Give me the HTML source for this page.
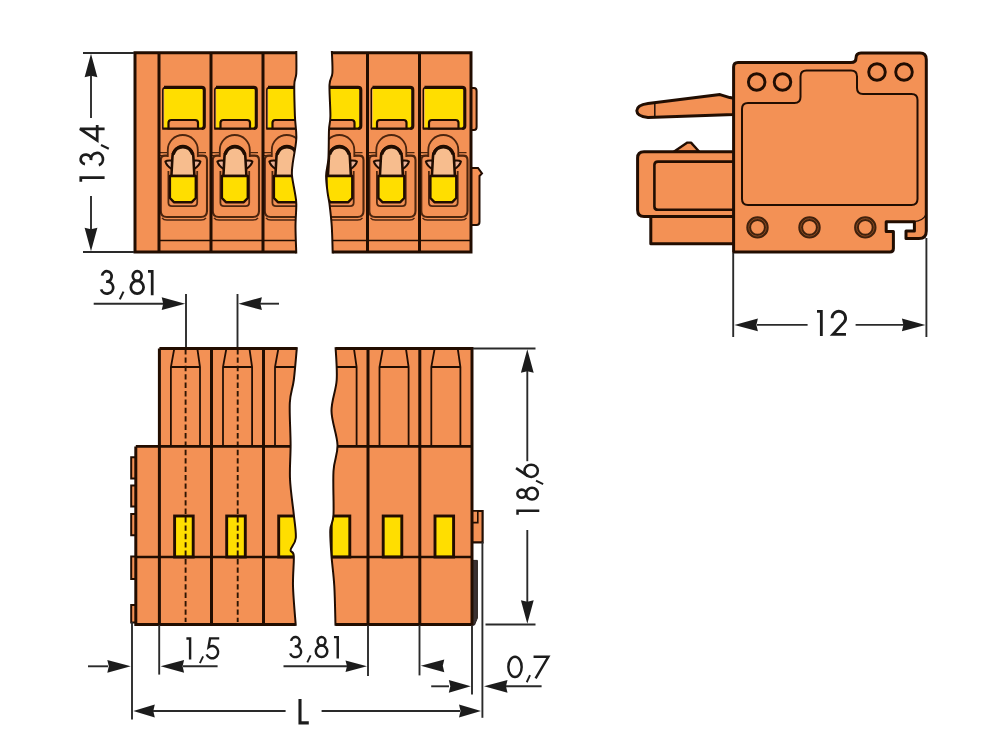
<!DOCTYPE html>
<html><head><meta charset="utf-8"><title>Dimensions</title>
<style>
html,body{margin:0;padding:0;background:#fff;}
body{width:1000px;height:756px;overflow:hidden;font-family:"Liberation Sans",sans-serif;}
svg{display:block;}
</style></head><body>
<svg width="1000" height="756" viewBox="0 0 1000 756">
<rect width="1000" height="756" fill="#ffffff"/>
<defs>
<filter id="soft" x="0" y="0" width="1000" height="756" filterUnits="userSpaceOnUse"><feGaussianBlur stdDeviation="0.55"/></filter>

<g id="mod">
  <!-- yellow window -->
  <rect x="3.6" y="87" width="42" height="41.6" rx="2.5" fill="#f4a878"/>
  <rect x="5.2" y="88.6" width="38.6" height="40" rx="1" fill="#ffde02"/>
  <path d="M3.8,128.6 V90 Q3.8,87.6 6.2,87.4" fill="none" stroke="#200e06" stroke-width="1.5"/>
  <path d="M5,87.4 H42.6 Q45.3,87.4 45.3,90 V126 Q45.3,128.5 42.8,128.5" fill="none" stroke="#200e06" stroke-width="3.1"/>
  <path d="M3.2,128.6 H44" fill="none" stroke="#200e06" stroke-width="2.2"/>
  <path d="M9.5,128.5 V122.8 Q9.5,120 12.3,120 H36.2 Q39,120 39,122.8 V128.5 Z" fill="#f39155" stroke="#200e06" stroke-width="2.2"/>
  <!-- ledge lines -->
  <path d="M1,152.6 H9 M1,155.6 H9 M39,152.6 H47 M39,155.6 H47" stroke="#4d2510" stroke-width="1.4" fill="none"/>
  <!-- outer pocket -->
  <path d="M8.5,155.6 H6 Q1.8,155.6 1.8,160 V211 Q1.8,217 7.8,217 H42 Q48,217 48,211 V160 Q48,155.6 43.6,155.6 H39" fill="none" stroke="#4d2510" stroke-width="2.1"/>
  <path d="M3,217.8 Q4.5,220 8,220 H42 Q45.5,220 47,217.8" fill="none" stroke="#4d2510" stroke-width="1.5"/>
  <!-- outer arch -->
  <path d="M8.8,157 V150 A15,15 0 0 1 38.8,150 V157" fill="none" stroke="#4d2510" stroke-width="1.8"/>
  <!-- ears -->
  <path d="M13.2,160.6 Q8,160 6.4,161.6 Q7.6,166.4 13,169" fill="#eab095" stroke="#200e06" stroke-width="2.1" stroke-linejoin="round"/>
  <path d="M34.6,160.6 Q39.8,160 41.4,161.6 Q40.2,166.4 34.8,169" fill="#eab095" stroke="#200e06" stroke-width="2.1" stroke-linejoin="round"/>
  <!-- inner pocket outline -->
  <path d="M9.4,171 V202.6 Q9.4,206.2 13,206.2 H34.6 Q38.2,206.2 38.2,202.6 V171" fill="none" stroke="#4d2510" stroke-width="1.8"/>
  <!-- inner arch with peach -->
  <path d="M12.4,176 L13.4,157.5 A10.5,11.5 0 0 1 34.4,157.5 L35.4,176 Z" fill="#f7bd8e" stroke="#200e06" stroke-width="2.6"/>
  <path d="M14,154.5 A10.5,11.5 0 0 1 33.8,154.5" fill="none" stroke="#200e06" stroke-width="3.4"/>
  <!-- lower yellow -->
  <path d="M10.9,176 H36.8 V198 L32.8,202.2 H14.9 L10.9,198 Z" fill="#ffde02" stroke="#200e06" stroke-width="2.4" stroke-linejoin="round"/>
</g>
<clipPath id="clipL"><path d="M120,40 H296 L296.3,50.0 C296.3,53.9 296.6,67.6 296.3,73.4 C296.0,79.2 294.5,77.7 294.3,84.8 C294.1,91.9 294.6,107.0 294.9,116.0 C295.2,125.0 296.7,130.8 296.3,138.8 C295.9,146.9 293.3,158.2 292.6,164.3 C291.9,170.5 291.6,171.0 292.0,175.7 C292.4,180.4 294.2,188.0 294.9,192.7 C295.6,197.4 296.2,198.3 296.3,204.0 C296.4,209.7 295.5,218.5 295.5,226.8 C295.5,235.1 296.2,249.5 296.3,254.0 V270 H120 Z"/></clipPath>
<clipPath id="clipR"><path d="M500,40 H331 L331.8,50.0 C331.9,53.8 332.8,67.2 332.4,73.0 C332.0,78.8 329.8,77.6 329.5,84.8 C329.2,92.0 330.5,108.5 330.4,116.0 C330.3,123.5 329.3,122.9 329.0,130.0 C328.7,137.1 328.9,151.0 328.4,158.6 C327.9,166.2 326.2,170.0 326.1,175.7 C326.0,181.4 327.0,188.0 327.6,192.7 C328.2,197.4 328.8,198.3 329.5,204.0 C330.2,209.7 331.3,218.5 331.8,226.8 C332.3,235.1 332.6,249.5 332.7,254.0 V270 H500 Z"/></clipPath>
<clipPath id="clipBL"><path d="M120,340 H296 L297.0,346.0 C296.5,351.7 295.0,370.5 293.8,380.0 C292.6,389.5 290.3,392.2 289.8,403.0 C289.3,413.8 290.6,432.3 290.6,445.0 C290.6,457.7 289.5,467.4 290.0,479.0 C290.5,490.6 292.8,504.8 293.8,514.6 C294.8,524.4 296.3,532.1 295.8,538.0 C295.3,543.9 290.9,547.0 290.6,550.0 C290.3,553.0 293.4,550.0 293.8,556.0 C294.2,562.0 292.7,574.3 293.0,586.0 C293.3,597.7 295.3,619.3 295.8,626.0 V640 H120 Z"/></clipPath>
<clipPath id="cyT"><rect x="280" y="51" width="70" height="202.5"/></clipPath>
<clipPath id="cyB"><rect x="280" y="347.2" width="70" height="278.6"/></clipPath>
<clipPath id="clipBR"><path d="M500,340 H335 L335.5,346.0 C335.7,351.7 337.4,369.2 336.7,380.0 C336.0,390.8 331.4,400.2 331.5,411.0 C331.6,421.8 337.2,435.0 337.5,445.0 C337.8,455.0 334.2,459.4 333.5,471.0 C332.8,482.6 334.0,504.8 333.5,514.6 C333.0,524.4 330.6,523.1 330.3,530.0 C330.0,536.9 330.8,546.7 331.5,556.0 C332.2,565.3 333.6,574.3 334.3,586.0 C335.0,597.7 335.3,619.3 335.5,626.0 V640 H500 Z"/></clipPath>
</defs>
<g filter="url(#soft)">
<rect width="1000" height="756" fill="#ffffff"/>

<g clip-path="url(#clipL)">
<rect x="135" y="52.8" width="200" height="199.2" fill="#f39155"/>
<use href="#mod" x="159" y="0"/>
<use href="#mod" x="211" y="0"/>
<use href="#mod" x="263" y="0"/>
<line x1="159" y1="240.5" x2="300" y2="240.5" stroke="#200e06" stroke-width="1.6"/>
<line x1="159" y1="52.5" x2="159" y2="252" stroke="#200e06" stroke-width="3"/>
<line x1="211" y1="52.5" x2="211" y2="252" stroke="#200e06" stroke-width="3"/>
<line x1="263" y1="52.5" x2="263" y2="252" stroke="#200e06" stroke-width="3"/>
<path d="M300,52.8 H135 V252 H300" fill="none" stroke="#200e06" stroke-width="3"/>
</g>
<path d="M296.3,50.0 C296.3,53.9 296.6,67.6 296.3,73.4 C296.0,79.2 294.5,77.7 294.3,84.8 C294.1,91.9 294.6,107.0 294.9,116.0 C295.2,125.0 296.7,130.8 296.3,138.8 C295.9,146.9 293.3,158.2 292.6,164.3 C291.9,170.5 291.6,171.0 292.0,175.7 C292.4,180.4 294.2,188.0 294.9,192.7 C295.6,197.4 296.2,198.3 296.3,204.0 C296.4,209.7 295.5,218.5 295.5,226.8 C295.5,235.1 296.2,249.5 296.3,254.0" fill="none" stroke="#200e06" stroke-width="2" clip-path="url(#cyT)"/>
<path d="M471,88 H474 Q476.6,88 476.6,91 V127 Q476.6,130 474,130 H471 Z" fill="#f39155" stroke="#200e06" stroke-width="2"/>
<path d="M471,168 H478 L482,173.5 L479.5,176 V222 Q479.5,225 476.5,225 H471 Z" fill="#f39155" stroke="#200e06" stroke-width="2"/>
<g clip-path="url(#clipR)">
<rect x="300" y="52.5" width="171" height="199.5" fill="#f39155"/>
<use href="#mod" x="315.5" y="0"/>
<use href="#mod" x="367.5" y="0"/>
<use href="#mod" x="419.5" y="0"/>
<line x1="300" y1="240.5" x2="471" y2="240.5" stroke="#200e06" stroke-width="1.6"/>
<line x1="367.5" y1="52.5" x2="367.5" y2="252" stroke="#200e06" stroke-width="3"/>
<line x1="419.5" y1="52.5" x2="419.5" y2="252" stroke="#200e06" stroke-width="3"/>
<path d="M300,52.8 H471 V252 H300" fill="none" stroke="#200e06" stroke-width="3"/>
</g>
<path d="M331.8,50.0 C331.9,53.8 332.8,67.2 332.4,73.0 C332.0,78.8 329.8,77.6 329.5,84.8 C329.2,92.0 330.5,108.5 330.4,116.0 C330.3,123.5 329.3,122.9 329.0,130.0 C328.7,137.1 328.9,151.0 328.4,158.6 C327.9,166.2 326.2,170.0 326.1,175.7 C326.0,181.4 327.0,188.0 327.6,192.7 C328.2,197.4 328.8,198.3 329.5,204.0 C330.2,209.7 331.3,218.5 331.8,226.8 C332.3,235.1 332.6,249.5 332.7,254.0" fill="none" stroke="#200e06" stroke-width="2" clip-path="url(#cyT)"/>
<line x1="83" y1="53" x2="134" y2="53" stroke="#2b2b2b" stroke-width="1.9"/>
<line x1="83" y1="252" x2="134" y2="252" stroke="#2b2b2b" stroke-width="1.9"/>
<line x1="91" y1="75" x2="91" y2="118" stroke="#2b2b2b" stroke-width="1.9"/>
<line x1="91" y1="196" x2="91" y2="230" stroke="#2b2b2b" stroke-width="1.9"/>
<polygon points="91.0,53.8 97.4,77.3 91.0,75.8 84.6,77.3" fill="#1e1e1e"/>
<polygon points="91.0,251.2 84.6,227.7 91.0,229.2 97.4,227.7" fill="#1e1e1e"/>
<g transform="translate(80.6,182.3) rotate(-90)" fill="none" stroke="#1e1e1e" stroke-width="2.75" stroke-miterlimit="3"><g transform="translate(0.6,0)"><path d="M0,0.2 H4.2 V24"/></g><g transform="translate(16.9,0)"><path d="M1.3,4.4 A4.8,5.2 0 1 1 5.4,10.4 H6 A6.2,6 0 1 1 0.3,18.2"/></g><g transform="translate(33.6,0)"><path d="M3.7,20.4 L0,28.2" stroke-width="2.1"/></g><g transform="translate(41.9,0)"><path d="M11.6,24 V-0.6 L0,16.6 H15.4"/></g></g>
<line x1="93.7" y1="303.7" x2="164" y2="303.7" stroke="#2b2b2b" stroke-width="1.9"/>
<polygon points="185.2,303.7 161.7,310.1 163.2,303.7 161.7,297.3" fill="#1e1e1e"/>
<line x1="186" y1="294" x2="186" y2="349" stroke="#2b2b2b" stroke-width="1.9"/>
<line x1="237.5" y1="294" x2="237.5" y2="349" stroke="#2b2b2b" stroke-width="1.9"/>
<polygon points="238.4,303.7 261.9,297.3 260.4,303.7 261.9,310.1" fill="#1e1e1e"/>
<line x1="260" y1="303.7" x2="279" y2="303.7" stroke="#2b2b2b" stroke-width="1.9"/>
<g transform="translate(100.8,271.2)" fill="none" stroke="#1e1e1e" stroke-width="2.75" stroke-miterlimit="3"><g transform="translate(0,0)"><path d="M1.3,4.4 A4.8,5.2 0 1 1 5.4,10.4 H6 A6.2,6 0 1 1 0.3,18.2"/></g><g transform="translate(19,0)"><path d="M3.7,20.4 L0,28.2" stroke-width="2.1"/></g><g transform="translate(30,0)"><ellipse cx="6.4" cy="4.8" rx="4.4" ry="4.8"/><ellipse cx="6.4" cy="16" rx="6.4" ry="6.4"/></g><g transform="translate(47.2,0)"><path d="M0,0.2 H4.2 V24"/></g></g>
<path d="M734,98.2 L729.8,97.6 L720,94.6 L648,103.6 Q637,105 636.8,110.8 Q637,116.6 648,117.4 L734,114.4 Z" fill="#f39155" stroke="#200e06" stroke-width="3" stroke-linejoin="round"/>
<line x1="654.8" y1="103" x2="654.8" y2="117.5" stroke="#200e06" stroke-width="1.5"/>
<path d="M734,216 H650.8 V243.8 H734 Z" fill="#f39155" stroke="#200e06" stroke-width="3" stroke-linejoin="round"/>
<path d="M673.8,151.8 L687.4,142.6 H691 L699.3,151.8 Z" fill="#f39155" stroke="#200e06" stroke-width="2.4" stroke-linejoin="round"/>
<path d="M734,151.8 H644 Q637.6,151.8 637.6,158 V210 Q637.6,216.6 644,216.6 H734 Z" fill="#f39155" stroke="#200e06" stroke-width="3"/>
<path d="M734,161.6 H658 Q654.4,161.6 654.4,165 V206.4 Q654.4,209.8 658,209.8 H734" fill="none" stroke="#200e06" stroke-width="2.6"/>
<path d="M733.6,67 Q733.6,62.5 738,62.5 H851 Q856,62.5 856,58 Q856,53 861,53 H920 Q926.3,53 926.3,59.5 V231 Q926.3,238.6 919,238.6 H906 V231 H914.4 V221.8 H886.2 V231.4 H893.4 V248.5 Q893.4,252 890,252 H733.6 Z" fill="#f39155" stroke="#200e06" stroke-width="3" stroke-linejoin="round"/>
<path d="M742,109 Q742,103 748,103 H794.5 Q800.5,103 800.5,97 V76.5 Q800.5,70.5 806.5,70.5 H851 Q857,70.5 857,76.5 V88 Q857,94 863,94 H911.5 Q917.5,94 917.5,100 V199 Q917.5,205 911.5,205 H748 Q742,205 742,199 Z" fill="none" stroke="#200e06" stroke-width="2"/>
<path d="M914,221.6 Q923,221 926,214.5" fill="none" stroke="#200e06" stroke-width="1.2"/>
<circle cx="756.7" cy="82" r="8.3" fill="none" stroke="#200e06" stroke-width="2.9"/>
<circle cx="782.5" cy="82" r="8.3" fill="none" stroke="#200e06" stroke-width="2.9"/>
<circle cx="877" cy="72" r="8.3" fill="none" stroke="#200e06" stroke-width="2.9"/>
<circle cx="904" cy="72" r="8.3" fill="none" stroke="#200e06" stroke-width="2.9"/>
<circle cx="757.5" cy="227.4" r="8.8" fill="none" stroke="#40200e" stroke-width="4.8"/>
<circle cx="757.5" cy="227.4" r="8.8" fill="none" stroke="#8a4a20" stroke-width="1"/>
<circle cx="809.5" cy="227.4" r="8.8" fill="none" stroke="#40200e" stroke-width="4.8"/>
<circle cx="809.5" cy="227.4" r="8.8" fill="none" stroke="#8a4a20" stroke-width="1"/>
<circle cx="865.3" cy="227.4" r="8.8" fill="none" stroke="#40200e" stroke-width="4.8"/>
<circle cx="865.3" cy="227.4" r="8.8" fill="none" stroke="#8a4a20" stroke-width="1"/>
<line x1="733.2" y1="253" x2="733.2" y2="337" stroke="#2b2b2b" stroke-width="1.9"/>
<line x1="926.4" y1="238" x2="926.4" y2="337" stroke="#2b2b2b" stroke-width="1.9"/>
<polygon points="734.4,324.9 757.9,318.5 756.4,324.9 757.9,331.3" fill="#1e1e1e"/>
<line x1="757" y1="324.9" x2="807.6" y2="324.9" stroke="#2b2b2b" stroke-width="1.9"/>
<line x1="855.6" y1="324.9" x2="904" y2="324.9" stroke="#2b2b2b" stroke-width="1.9"/>
<polygon points="925.4,324.9 901.9,331.3 903.4,324.9 901.9,318.5" fill="#1e1e1e"/>
<g transform="translate(817,311.2) scale(1.035)" fill="none" stroke="#1e1e1e" stroke-width="2.75" stroke-miterlimit="3"><g transform="translate(0,0)"><path d="M0,0.2 H4.2 V24"/></g><g transform="translate(14.6,0)"><path d="M0,6.8 A6.5,6.5 0 1 1 11.6,10.6 L0.8,22.4 H13.4"/></g></g>
<path d="M136,457.2 H131.2 V478.4 H136" fill="#f39155" stroke="#200e06" stroke-width="2"/>
<path d="M136,485.5 H131.2 V506.5 H136" fill="#f39155" stroke="#200e06" stroke-width="2"/>
<path d="M136,514 H131.2 V535.2 H136" fill="#f39155" stroke="#200e06" stroke-width="2"/>
<path d="M136,556.4 H131.2 V579 H136" fill="#f39155" stroke="#200e06" stroke-width="2"/>
<path d="M136,605 H131.2 V622.5 H136" fill="#f39155" stroke="#200e06" stroke-width="2"/>
<g clip-path="url(#clipBL)">
<path d="M159.4,348.5 H300 V624.4 H135.8 V446.4 H159.4 Z" fill="#f39155"/>
<path d="M170.9,446 V367 L174.20000000000002,349 M200.0,446 V367 L197.4,349 M170.9,367 H200.0" fill="none" stroke="#200e06" stroke-width="1.8"/><rect x="174.6" y="516" width="18.6" height="41" fill="#ffde02" stroke="#200e06" stroke-width="2.9"/><line x1="185.6" y1="349" x2="185.6" y2="622" stroke="#2e1406" stroke-width="1.9" stroke-dasharray="5.4,3"/>
<path d="M223.0,446 V367 L226.3,349 M252.1,446 V367 L249.5,349 M223.0,367 H252.1" fill="none" stroke="#200e06" stroke-width="1.8"/><rect x="226.7" y="516" width="18.6" height="41" fill="#ffde02" stroke="#200e06" stroke-width="2.9"/><line x1="237.7" y1="349" x2="237.7" y2="622" stroke="#2e1406" stroke-width="1.9" stroke-dasharray="5.4,3"/>
<path d="M275.0,446 V367 L278.3,349 M304.1,446 V367 L301.5,349 M275.0,367 H304.1" fill="none" stroke="#200e06" stroke-width="1.8"/><rect x="278.7" y="516" width="18.6" height="41" fill="#ffde02" stroke="#200e06" stroke-width="2.9"/>
<line x1="135.8" y1="446.4" x2="300" y2="446.4" stroke="#200e06" stroke-width="2.6"/>
<line x1="135.8" y1="557" x2="300" y2="557" stroke="#200e06" stroke-width="2.4"/>
<line x1="159.4" y1="348.5" x2="159.4" y2="624.4" stroke="#200e06" stroke-width="3"/>
<line x1="211.5" y1="348.5" x2="211.5" y2="624.4" stroke="#200e06" stroke-width="3"/>
<line x1="263.5" y1="348.5" x2="263.5" y2="624.4" stroke="#200e06" stroke-width="3"/>
<path d="M300,348.5 H159.4 M135.8,446.4 V624.4 H300" fill="none" stroke="#200e06" stroke-width="3"/>
</g>
<path d="M297.0,346.0 C296.5,351.7 295.0,370.5 293.8,380.0 C292.6,389.5 290.3,392.2 289.8,403.0 C289.3,413.8 290.6,432.3 290.6,445.0 C290.6,457.7 289.5,467.4 290.0,479.0 C290.5,490.6 292.8,504.8 293.8,514.6 C294.8,524.4 296.3,532.1 295.8,538.0 C295.3,543.9 290.9,547.0 290.6,550.0 C290.3,553.0 293.4,550.0 293.8,556.0 C294.2,562.0 292.7,574.3 293.0,586.0 C293.3,597.7 295.3,619.3 295.8,626.0" fill="none" stroke="#200e06" stroke-width="2" clip-path="url(#cyB)"/>
<path d="M472,511 H482.6 V542.4 H472 Z" fill="#f39155" stroke="#200e06" stroke-width="2.2"/>
<path d="M472,511 H477.8 V522.6 H472 Z" fill="#f39155" stroke="#200e06" stroke-width="1.6"/>
<path d="M472,560.4 H477.4 V618 L474.5,625 H472 Z" fill="#3a3230" stroke="#2a2220" stroke-width="1"/>
<g clip-path="url(#clipBR)">
<rect x="300" y="348.5" width="172" height="276" fill="#f39155"/>
<path d="M327.5,446 V367 L330.8,349 M356.6,446 V367 L354,349 M327.5,367 H356.6" fill="none" stroke="#200e06" stroke-width="1.8"/><rect x="331.2" y="516" width="18.6" height="41" fill="#ffde02" stroke="#200e06" stroke-width="2.9"/>
<path d="M379.5,446 V367 L382.8,349 M408.6,446 V367 L406,349 M379.5,367 H408.6" fill="none" stroke="#200e06" stroke-width="1.8"/><rect x="383.2" y="516" width="18.6" height="41" fill="#ffde02" stroke="#200e06" stroke-width="2.9"/>
<path d="M431.3,446 V367 L434.6,349 M460.40000000000003,446 V367 L457.8,349 M431.3,367 H460.40000000000003" fill="none" stroke="#200e06" stroke-width="1.8"/><rect x="435.0" y="516" width="18.6" height="41" fill="#ffde02" stroke="#200e06" stroke-width="2.9"/>
<line x1="300" y1="446.4" x2="472" y2="446.4" stroke="#200e06" stroke-width="2.6"/>
<line x1="300" y1="557" x2="472" y2="557" stroke="#200e06" stroke-width="2.4"/>
<line x1="368" y1="348.5" x2="368" y2="624.4" stroke="#200e06" stroke-width="3"/>
<line x1="419.8" y1="348.5" x2="419.8" y2="624.4" stroke="#200e06" stroke-width="3"/>
<path d="M300,348.5 H472 V624.4 H300" fill="none" stroke="#200e06" stroke-width="3"/>
</g>
<path d="M335.5,346.0 C335.7,351.7 337.4,369.2 336.7,380.0 C336.0,390.8 331.4,400.2 331.5,411.0 C331.6,421.8 337.2,435.0 337.5,445.0 C337.8,455.0 334.2,459.4 333.5,471.0 C332.8,482.6 334.0,504.8 333.5,514.6 C333.0,524.4 330.6,523.1 330.3,530.0 C330.0,536.9 330.8,546.7 331.5,556.0 C332.2,565.3 333.6,574.3 334.3,586.0 C335.0,597.7 335.3,619.3 335.5,626.0" fill="none" stroke="#200e06" stroke-width="2" clip-path="url(#cyB)"/>
<line x1="473" y1="348.5" x2="535.5" y2="348.5" stroke="#2b2b2b" stroke-width="1.9"/>
<line x1="485.5" y1="624.5" x2="535.5" y2="624.5" stroke="#2b2b2b" stroke-width="1.9"/>
<line x1="527.3" y1="371" x2="527.3" y2="461.2" stroke="#2b2b2b" stroke-width="1.9"/>
<line x1="527.3" y1="530" x2="527.3" y2="604" stroke="#2b2b2b" stroke-width="1.9"/>
<polygon points="527.3,349.3 533.7,372.8 527.3,371.3 520.9,372.8" fill="#1e1e1e"/>
<polygon points="527.3,623.8 520.9,600.3 527.3,601.8 533.7,600.3" fill="#1e1e1e"/>
<g transform="translate(517.35,514.7) rotate(-90) scale(0.915)" fill="none" stroke="#1e1e1e" stroke-width="2.75" stroke-miterlimit="3"><g transform="translate(0,0)"><path d="M0,0.2 H4.2 V24"/></g><g transform="translate(16.6,0)"><ellipse cx="6.4" cy="4.8" rx="4.4" ry="4.8"/><ellipse cx="6.4" cy="16" rx="6.4" ry="6.4"/></g><g transform="translate(33.5,0)"><path d="M3.7,20.4 L0,28.2" stroke-width="2.1"/></g><g transform="translate(41.3,0)"><path d="M9.6,-1.4 L0.9,11.6"/><ellipse cx="6.7" cy="15.1" rx="6.7" ry="7.3"/></g></g>
<line x1="132" y1="622" x2="132" y2="719.5" stroke="#2b2b2b" stroke-width="1.9"/>
<line x1="159.2" y1="625" x2="159.2" y2="674.6" stroke="#2b2b2b" stroke-width="1.9"/>
<line x1="88" y1="666.3" x2="108" y2="666.3" stroke="#2b2b2b" stroke-width="1.9"/>
<polygon points="130.8,666.3 107.3,672.7 108.8,666.3 107.3,659.9" fill="#1e1e1e"/>
<polygon points="160.6,666.3 184.1,659.9 182.6,666.3 184.1,672.7" fill="#1e1e1e"/>
<line x1="183" y1="666.3" x2="217.6" y2="666.3" stroke="#2b2b2b" stroke-width="1.9"/>
<g transform="translate(186.4,638.4) scale(0.88)" fill="none" stroke="#1e1e1e" stroke-width="2.75" stroke-miterlimit="3"><g transform="translate(0,0)"><path d="M0,0.2 H4.2 V24"/></g><g transform="translate(15.3,0)"><path d="M3.7,20.4 L0,28.2" stroke-width="2.1"/></g><g transform="translate(23,0)"><path d="M14.3,0 H3.9 L2.2,10 A6.8,7 0 1 1 0,18.2"/></g></g>
<line x1="283.5" y1="666.2" x2="347" y2="666.2" stroke="#2b2b2b" stroke-width="1.9"/>
<polygon points="367.0,666.2 345.5,672.0 347.0,666.2 345.5,660.4" fill="#1e1e1e"/>
<line x1="368" y1="625" x2="368" y2="676" stroke="#2b2b2b" stroke-width="1.9"/>
<g transform="translate(289.95,636.95) scale(0.9)" fill="none" stroke="#1e1e1e" stroke-width="2.75" stroke-miterlimit="3"><g transform="translate(0,0)"><path d="M1.3,4.4 A4.8,5.2 0 1 1 5.4,10.4 H6 A6.2,6 0 1 1 0.3,18.2"/></g><g transform="translate(19.3,0)"><path d="M3.7,20.4 L0,28.2" stroke-width="2.1"/></g><g transform="translate(28.7,0)"><ellipse cx="6.4" cy="4.8" rx="4.4" ry="4.8"/><ellipse cx="6.4" cy="16" rx="6.4" ry="6.4"/></g><g transform="translate(48.9,0)"><path d="M0,0.2 H4.2 V24"/></g></g>
<line x1="419.5" y1="625" x2="419.5" y2="675.4" stroke="#2b2b2b" stroke-width="1.9"/>
<polygon points="420.8,665.8 444.3,659.4 442.8,665.8 444.3,672.2" fill="#1e1e1e"/>
<line x1="472" y1="625" x2="472" y2="694.6" stroke="#2b2b2b" stroke-width="1.9"/>
<line x1="431.2" y1="686.3" x2="449" y2="686.3" stroke="#2b2b2b" stroke-width="1.9"/>
<polygon points="470.8,686.3 448.8,692.7 450.3,686.3 448.8,679.9" fill="#1e1e1e"/>
<line x1="482.4" y1="542" x2="482.4" y2="717.8" stroke="#2b2b2b" stroke-width="1.9"/>
<polygon points="484.0,686.3 507.5,679.9 506.0,686.3 507.5,692.7" fill="#1e1e1e"/>
<line x1="506" y1="686.3" x2="541.6" y2="686.3" stroke="#2b2b2b" stroke-width="1.9"/>
<g transform="translate(508.35,656.85) scale(0.9)" fill="none" stroke="#1e1e1e" stroke-width="2.75" stroke-miterlimit="3"><g transform="translate(0,0)"><ellipse cx="7.4" cy="11.2" rx="7.4" ry="11.2"/></g><g transform="translate(20.4,0)"><path d="M3.7,20.4 L0,28.2" stroke-width="2.1"/></g><g transform="translate(28,0)"><path d="M0,0 H16.4 L2.3,24"/></g></g>
<polygon points="133.3,711.0 154.8,704.6 153.3,711.0 154.8,717.4" fill="#1e1e1e"/>
<line x1="153" y1="711" x2="285.6" y2="711" stroke="#2b2b2b" stroke-width="1.9"/>
<line x1="321.6" y1="711" x2="460" y2="711" stroke="#2b2b2b" stroke-width="1.9"/>
<polygon points="481.0,711.0 459.0,717.4 460.5,711.0 459.0,704.6" fill="#1e1e1e"/>
<g transform="translate(300,700.5)" fill="none" stroke="#1e1e1e" stroke-width="3.1" stroke-miterlimit="3"><g transform="translate(0,0)"><path d="M0,-1.6 V22.4 H8.8"/></g></g>
</g>
</svg></body></html>
